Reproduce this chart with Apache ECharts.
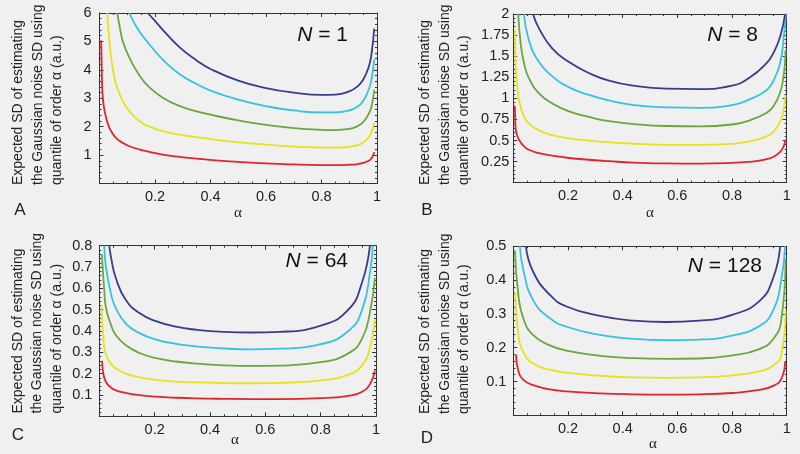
<!DOCTYPE html>
<html><head><meta charset="utf-8">
<script src="https://cdn.jsdelivr.net/npm/echarts@6/dist/echarts.min.js"></script>
<style>html,body{margin:0;padding:0;background:#f0f0f0;}#c{width:800px;height:454px;}</style>
</head><body><div id="c"></div>
<script>
// ---------- data (alpha, expected SD) ----------
const aRed=[[0.003,5.03],[0.006,4.95],[0.0075,4.3],[0.009,3.6],[0.011,3.15],[0.015,2.75],[0.024,2.3],[0.032,2.05],[0.042,1.84],[0.06,1.6],[0.084,1.43],[0.108,1.31],[0.144,1.2],[0.18,1.11],[0.228,1.02],[0.288,0.94],[0.35,0.875],[0.4,0.83],[0.5,0.76],[0.6,0.705],[0.7,0.67],[0.8,0.65],[0.85,0.648],[0.9,0.66],[0.93,0.685],[0.95,0.725],[0.97,0.8],[0.98,0.88],[0.99,1.1]];
const aYellow=[[0.028,6],[0.035,5.1],[0.042,4.42],[0.05,3.95],[0.06,3.48],[0.084,2.9],[0.108,2.54],[0.144,2.19],[0.18,2.0],[0.228,1.84],[0.288,1.72],[0.35,1.63],[0.4,1.56],[0.5,1.45],[0.6,1.37],[0.7,1.3],[0.8,1.265],[0.85,1.26],[0.9,1.29],[0.93,1.35],[0.95,1.44],[0.97,1.62],[0.98,1.8],[0.99,2.15]];
const aGreen=[[0.064,6],[0.075,5.4],[0.084,5.0],[0.108,4.42],[0.144,3.8],[0.18,3.38],[0.228,3.02],[0.288,2.73],[0.35,2.54],[0.4,2.42],[0.5,2.22],[0.6,2.06],[0.7,1.95],[0.8,1.89],[0.85,1.88],[0.9,1.92],[0.93,2.02],[0.95,2.16],[0.97,2.45],[0.98,2.7],[0.99,3.3]];
const aCyan=[[0.108,6],[0.125,5.65],[0.144,5.35],[0.18,4.89],[0.228,4.36],[0.288,3.85],[0.35,3.5],[0.4,3.27],[0.5,2.95],[0.6,2.72],[0.7,2.57],[0.8,2.5],[0.85,2.5],[0.9,2.57],[0.93,2.7],[0.95,2.9],[0.97,3.3],[0.98,3.65],[0.99,4.36]];
const aBlue=[[0.174,6],[0.2,5.72],[0.228,5.41],[0.288,4.8],[0.35,4.33],[0.4,4.03],[0.5,3.62],[0.6,3.36],[0.7,3.2],[0.8,3.12],[0.85,3.13],[0.9,3.24],[0.93,3.42],[0.95,3.65],[0.97,4.1],[0.98,4.55],[0.99,5.45]];

const bRed=[[0.004,0.91],[0.006,0.88],[0.008,0.66],[0.013,0.57],[0.021,0.51],[0.039,0.43],[0.057,0.39],[0.094,0.35],[0.143,0.32],[0.204,0.293],[0.277,0.272],[0.35,0.255],[0.44,0.238],[0.56,0.228],[0.68,0.227],[0.8,0.235],[0.866,0.248],[0.9,0.262],[0.927,0.28],[0.95,0.305],[0.976,0.365],[0.99,0.44],[0.994,0.51]];
const bYellow=[[0.006,1.81],[0.008,1.5],[0.011,1.26],[0.021,0.98],[0.039,0.78],[0.057,0.7],[0.094,0.62],[0.143,0.565],[0.204,0.526],[0.277,0.5],[0.35,0.48],[0.44,0.462],[0.56,0.449],[0.68,0.448],[0.8,0.46],[0.866,0.49],[0.927,0.55],[0.95,0.6],[0.976,0.72],[0.99,0.88],[0.996,1.04]];
const bGreen=[[0.018,2.0],[0.027,1.65],[0.039,1.42],[0.057,1.24],[0.094,1.06],[0.143,0.94],[0.204,0.845],[0.277,0.78],[0.35,0.73],[0.44,0.695],[0.56,0.672],[0.68,0.668],[0.8,0.69],[0.866,0.74],[0.927,0.83],[0.95,0.9],[0.976,1.07],[0.99,1.3],[0.996,1.57]];
const bCyan=[[0.039,2.0],[0.057,1.69],[0.094,1.43],[0.143,1.26],[0.204,1.13],[0.277,1.04],[0.35,0.975],[0.44,0.92],[0.56,0.892],[0.68,0.888],[0.8,0.92],[0.866,0.99],[0.927,1.1],[0.95,1.2],[0.976,1.42],[0.99,1.75],[0.997,2.0]];
const bBlue=[[0.072,2.0],[0.094,1.83],[0.143,1.59],[0.204,1.43],[0.277,1.3],[0.35,1.21],[0.44,1.15],[0.56,1.115],[0.68,1.11],[0.8,1.15],[0.866,1.25],[0.927,1.42],[0.95,1.53],[0.976,1.73],[0.994,2.0]];

const cRed=[[0.01,0.26],[0.0146,0.2],[0.024,0.161],[0.042,0.135],[0.06,0.122],[0.096,0.11],[0.145,0.099],[0.205,0.092],[0.277,0.087],[0.35,0.084],[0.45,0.082],[0.55,0.081],[0.65,0.081],[0.8,0.085],[0.9,0.096],[0.95,0.115],[0.98,0.155],[0.996,0.215]];
const cYellow=[[0.008,0.52],[0.0146,0.37],[0.024,0.29],[0.042,0.247],[0.06,0.224],[0.096,0.2],[0.145,0.183],[0.205,0.171],[0.277,0.163],[0.35,0.159],[0.45,0.156],[0.55,0.155],[0.65,0.157],[0.8,0.168],[0.9,0.195],[0.95,0.24],[0.98,0.33],[0.996,0.45]];
const cGreen=[[0.009,0.76],[0.018,0.59],[0.024,0.51],[0.042,0.43],[0.06,0.38],[0.096,0.333],[0.145,0.297],[0.205,0.273],[0.277,0.257],[0.35,0.247],[0.45,0.239],[0.55,0.236],[0.65,0.238],[0.8,0.254],[0.9,0.295],[0.95,0.365],[0.98,0.5],[0.996,0.65]];
const cCyan=[[0.018,0.8],[0.024,0.7],[0.042,0.576],[0.06,0.506],[0.096,0.435],[0.145,0.39],[0.205,0.36],[0.277,0.34],[0.35,0.328],[0.45,0.318],[0.55,0.314],[0.65,0.317],[0.8,0.338],[0.9,0.4],[0.95,0.5],[0.98,0.69],[0.988,0.8]];
const cBlue=[[0.036,0.8],[0.042,0.748],[0.06,0.647],[0.096,0.545],[0.145,0.484],[0.205,0.446],[0.277,0.42],[0.35,0.406],[0.45,0.396],[0.55,0.393],[0.65,0.396],[0.8,0.425],[0.9,0.5],[0.95,0.63],[0.978,0.8]];

const dRed=[[0.01,0.18],[0.018,0.133],[0.037,0.105],[0.073,0.089],[0.134,0.077],[0.195,0.071],[0.317,0.065],[0.44,0.062],[0.56,0.061],[0.68,0.062],[0.8,0.066],[0.9,0.075],[0.95,0.087],[0.98,0.108],[0.994,0.158]];
const dYellow=[[0.007,0.365],[0.018,0.242],[0.037,0.187],[0.073,0.153],[0.134,0.135],[0.195,0.126],[0.317,0.117],[0.44,0.112],[0.56,0.111],[0.68,0.112],[0.8,0.118],[0.9,0.13],[0.95,0.147],[0.98,0.178],[0.996,0.31]];
const dGreen=[[0.006,0.488],[0.018,0.36],[0.037,0.286],[0.073,0.237],[0.134,0.207],[0.195,0.191],[0.317,0.176],[0.44,0.169],[0.56,0.167],[0.68,0.168],[0.8,0.177],[0.9,0.196],[0.95,0.225],[0.98,0.281],[0.996,0.464]];
const dCyan=[[0.024,0.5],[0.037,0.429],[0.073,0.34],[0.134,0.287],[0.195,0.262],[0.317,0.238],[0.44,0.226],[0.56,0.222],[0.68,0.224],[0.8,0.236],[0.9,0.264],[0.95,0.31],[0.98,0.4],[0.994,0.5]];
const dBlue=[[0.046,0.5],[0.073,0.424],[0.134,0.356],[0.195,0.322],[0.317,0.294],[0.44,0.28],[0.56,0.276],[0.68,0.28],[0.8,0.297],[0.9,0.338],[0.95,0.405],[0.976,0.5]];

const panelLetters=['A','B','C','D'];
const panelN=['1','8','64','128'];
const yMax=[6,2,0.8,0.5];
const yStep=[1,0.25,0.1,0.1];
const xTicks=[0,1,0.2];
const yNameLines=['Expected SD of estimating','the Gaussian noise SD using','quantile of order \u03b1 (a.u.)'];
const xName='\u03b1';
const curves=[[aRed,aYellow,aGreen,aCyan,aBlue],[bRed,bYellow,bGreen,bCyan,bBlue],[cRed,cYellow,cGreen,cCyan,cBlue],[dRed,dYellow,dGreen,dCyan,dBlue]];

// ---------- layout/styles ----------
const colors=['#e2252d','#e4e31e','#69a83c','#35c2e6','#383c8e'];
const FONT='"Liberation Sans", Arial, sans-serif';
const TXT='#222';
const grids=[
  {left:99.5,top:13,width:277.5,height:170.5},
  {left:513.3,top:14,width:273.4,height:168.7},
  {left:99.3,top:245.7,width:276.7,height:170.6},
  {left:513.3,top:246.3,width:273.4,height:169}
];
const yLabelMargin=[8,4,7,7];
const nameLineX=[[18,38,57.5],[425,445,464],[18,37.5,57],[425,445,464.5]];
const nameBottom=[185,185,413.5,414];
const letterPos=[[20,210],[427,210],[18,435],[427,438]];
const alphaPos=[[238,213],[650,213],[235,440],[653,444]];
const nPos=[[348,35],[758,35],[348,261],[762,266]];

const fmt=v=>{ if(Math.abs(v)<1e-9) return ''; return String(parseFloat(v.toFixed(3))); };
const axisLine={show:true,onZero:false,lineStyle:{color:'#333',width:1}};
const tick={show:true,inside:true,length:4,lineStyle:{color:'#333'}};

const xAxes=[],yAxes=[],series=[],graphic=[];
grids.forEach((g,i)=>{
  xAxes.push({type:'value',gridIndex:i,min:xTicks[0],max:xTicks[1],interval:xTicks[2],position:'bottom',
    axisLine,axisTick:tick,minorTick:{show:true,splitNumber:4,length:2,lineStyle:{color:'#333'}},
    splitLine:{show:false},axisLabel:{show:true,margin:6,color:TXT,fontSize:14.5,fontFamily:FONT,formatter:fmt,showMinLabel:true,showMaxLabel:true}});
  xAxes.push({type:'value',gridIndex:i,min:xTicks[0],max:xTicks[1],interval:xTicks[2],position:'top',
    axisLine,axisTick:tick,minorTick:{show:true,splitNumber:4,length:2,lineStyle:{color:'#333'}},
    splitLine:{show:false},axisLabel:{show:false}});
  yAxes.push({type:'value',gridIndex:i,min:0,max:yMax[i],interval:yStep[i],position:'left',
    axisLine,axisTick:tick,minorTick:{show:true,splitNumber:5,length:2,lineStyle:{color:'#333'}},
    splitLine:{show:false},axisLabel:{show:true,margin:yLabelMargin[i],color:TXT,fontSize:14.5,fontFamily:FONT,formatter:fmt,showMinLabel:true,showMaxLabel:true}});
  yAxes.push({type:'value',gridIndex:i,min:0,max:yMax[i],interval:yStep[i],position:'right',
    axisLine,axisTick:tick,minorTick:{show:true,splitNumber:5,length:2,lineStyle:{color:'#333'}},
    splitLine:{show:false},axisLabel:{show:false}});
  curves[i].forEach((d,k)=>{
    series.push({type:'line',xAxisIndex:2*i,yAxisIndex:2*i,data:d,showSymbol:false,symbol:'none',
      smooth:0.5,clip:true,lineStyle:{color:colors[k],width:1.8},silent:true,animation:false});
  });
  yNameLines.forEach((t,j)=>{
    graphic.push({type:'text',x:nameLineX[i][j],y:nameBottom[i],rotation:Math.PI/2,
      style:{text:t,fill:TXT,font:'14px '+FONT,textAlign:'left',textVerticalAlign:'middle'}});
  });
  graphic.push({type:'text',x:letterPos[i][0],y:letterPos[i][1],style:{text:panelLetters[i],fill:TXT,font:'17px '+FONT,textAlign:'center',textVerticalAlign:'middle'}});
  graphic.push({type:'text',x:alphaPos[i][0],y:alphaPos[i][1],style:{text:xName,fill:TXT,font:'15px "Liberation Serif", "DejaVu Serif", serif',textAlign:'center',textVerticalAlign:'middle'}});
  graphic.push({type:'text',x:nPos[i][0],y:nPos[i][1],style:{text:'{i|N} = '+panelN[i],fill:'#111',font:'21px '+FONT,textAlign:'right',textVerticalAlign:'middle',
    rich:{i:{fontStyle:'italic',fontSize:21,fontFamily:FONT,fill:'#111'}}}});
});

const chart=echarts.init(document.getElementById('c'),null,{renderer:'canvas'});
chart.setOption({backgroundColor:'#f0f0f0',animation:false,grid:grids,xAxis:xAxes,yAxis:yAxes,series,graphic});
</script></body></html>
